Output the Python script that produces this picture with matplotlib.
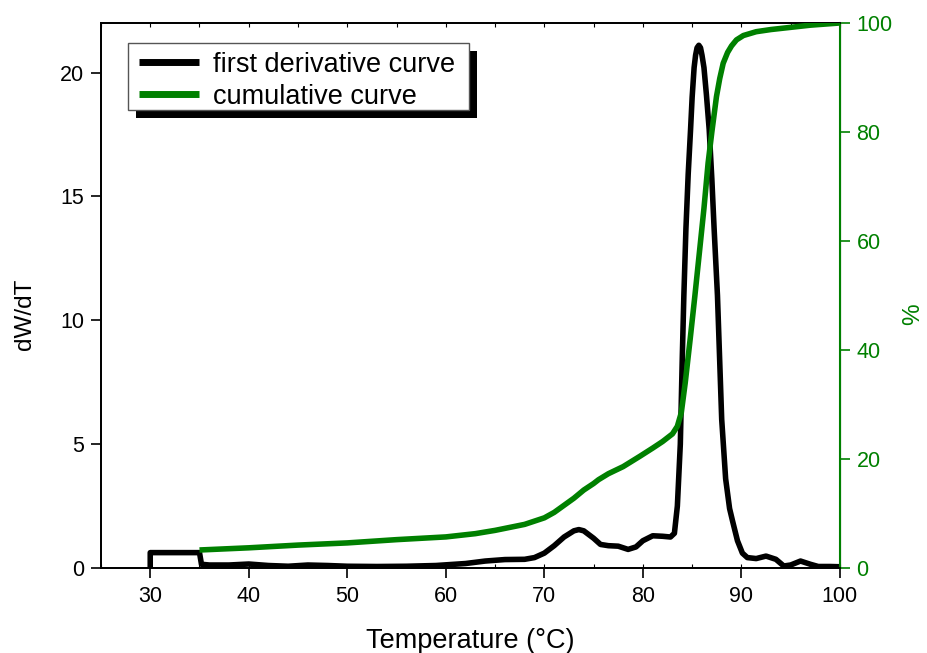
import matplotlib
matplotlib.use("Agg")
import matplotlib.pyplot as plt
from matplotlib.patches import Rectangle
from matplotlib.ticker import MultipleLocator

plt.rcParams['font.family'] = ['Liberation Sans', 'DejaVu Sans']

# First derivative of the cumulative curve (dW/dT) versus temperature
deriv_temp = [30, 30, 35, 35.2, 36, 38, 40, 42, 44, 46, 48, 50, 53, 56, 59, 62,
              64, 66, 68, 69, 70, 71, 72, 73, 73.5, 74, 75, 75.7, 76.5, 77.5,
              78.5, 79.3, 80, 81, 82, 82.8, 83.2, 83.5, 83.8, 84.0, 84.16,
              84.37, 84.6, 84.84, 85.0, 85.2, 85.35, 85.5, 85.68, 85.85, 86.0,
              86.2, 86.45, 86.73, 87.0, 87.23, 87.57, 88.0, 88.4, 88.8, 89.1,
              89.6, 90.1, 90.6, 91.5, 92.5, 93.5, 94.3, 95, 96, 97, 97.8, 99,
              100]
deriv_vals = [0, 0.62, 0.62, 0.15, 0.12, 0.12, 0.16, 0.1, 0.07, 0.12, 0.1, 0.07,
              0.06, 0.07, 0.1, 0.18, 0.28, 0.34, 0.35, 0.42, 0.6, 0.9, 1.25,
              1.5, 1.55, 1.5, 1.2, 0.95, 0.9, 0.88, 0.75, 0.85, 1.1, 1.3, 1.28,
              1.25, 1.4, 2.5, 5, 8.5, 11, 13.7, 15.9, 17.7, 19.0, 20.2, 20.7,
              21.0, 21.1, 21.0, 20.7, 20.2, 19.1, 17.7, 15.7, 13.7, 11, 6.0,
              3.6, 2.4, 1.9, 1.1, 0.6, 0.42, 0.38, 0.48, 0.35, 0.08, 0.12, 0.28,
              0.15, 0.06, 0.06, 0.05]

# Cumulative curve (%) versus temperature
cum_temp = [35, 40, 45, 50, 55, 60, 63, 65, 68, 70, 71, 72, 73, 74, 75, 75.5,
            76.5, 78, 79.7, 81, 82, 83, 83.5, 83.9, 84.3, 84.8, 85.27, 85.8,
            86.2, 86.62, 87.0, 87.47, 87.8, 88.15, 88.6, 89.0, 89.5, 90.2,
            91.5, 93, 95, 97, 100]
cum_vals = [3.3, 3.7, 4.2, 4.6, 5.2, 5.7, 6.3, 6.9, 8.0, 9.2, 10.2, 11.5, 12.8,
            14.3, 15.5, 16.2, 17.3, 18.6, 20.5, 22.0, 23.2, 24.6, 26.0, 28.5,
            34, 42, 49.8, 59, 66, 74.3, 80, 86.5, 89.8, 92.6, 94.6, 95.8, 96.9,
            97.7, 98.4, 98.8, 99.2, 99.6, 100]

x_ticks = [30, 40, 50, 60, 70, 80, 90, 100]
left_ticks = [0, 5, 10, 15, 20]
right_ticks = [0, 20, 40, 60, 80, 100]

green = '#008000'

fig = plt.figure(figsize=(9.28, 6.53), dpi=100)
ax = fig.add_axes([0.1088, 0.1302, 0.7963, 0.8346])
ax2 = ax.twinx()

ax.plot(deriv_temp, deriv_vals, color='black', lw=4.0,
        solid_joinstyle='round', solid_capstyle='butt',
        label='first derivative curve', zorder=3)
ax2.plot(cum_temp, cum_vals, color=green, lw=4.0,
         solid_joinstyle='round', solid_capstyle='butt',
         label='cumulative curve', zorder=3)

ax.set_xlim(25, 100)
ax.set_ylim(0, 22)
ax2.set_ylim(0, 100)

ax.set_xticks(x_ticks)
ax.xaxis.set_minor_locator(MultipleLocator(5))
ax.xaxis.remove_overlapping_locs = False
ax.set_yticks(left_ticks)
ax2.set_yticks(right_ticks)

ax.tick_params(axis='x', which='major', direction='out', length=7, width=1.2,
               labelsize=15.5, pad=6, top=False)
ax.tick_params(axis='x', which='minor', direction='in', length=3, width=0.8,
               top=True, bottom=True)
ax.tick_params(axis='y', which='major', direction='out', length=7, width=1.2,
               labelsize=15.5, pad=5)
ax2.tick_params(axis='y', which='major', direction='out', length=7, width=1.2,
                labelsize=15.5, pad=5, colors=green)

for side in ['left', 'bottom', 'top']:
    ax.spines[side].set_linewidth(1.3)
    ax2.spines[side].set_linewidth(1.3)
ax2.spines['right'].set_color(green)
ax2.spines['right'].set_linewidth(1.5)

ax.set_xlabel('Temperature (°C)', fontsize=19.5, labelpad=15)
ax.set_ylabel('dW/dT', fontsize=17.5)
ax.yaxis.set_label_coords(-0.088, 0.466)
ax2.set_ylabel('%', fontsize=17.5, color=green, rotation=90)
ax2.yaxis.set_label_coords(1.084, 0.466)

# Legend box with a solid drop shadow, drawn as patches in axes coordinates
frame_x0, frame_x1 = 0.0361, 0.498
frame_y0, frame_y1 = 0.8404, 0.9639
shadow_dx = 8 / 739
shadow_dy = 8 / 545
ax2.add_patch(Rectangle((frame_x0 + shadow_dx, frame_y0 - shadow_dy),
                        frame_x1 - frame_x0, frame_y1 - frame_y0,
                        transform=ax2.transAxes, facecolor='black',
                        edgecolor='none', zorder=8, clip_on=False))
ax2.add_patch(Rectangle((frame_x0, frame_y0),
                        frame_x1 - frame_x0, frame_y1 - frame_y0,
                        transform=ax2.transAxes, facecolor='white',
                        edgecolor='#555555', linewidth=1.0, zorder=9,
                        clip_on=False))

handles = ax.get_lines() + ax2.get_lines()
leg = ax2.legend(handles, [h.get_label() for h in handles],
                 loc='upper left', bbox_to_anchor=(0.0514, 0.947),
                 borderaxespad=0, borderpad=0, fontsize=19.5, frameon=False,
                 handlelength=2.21, handletextpad=0.52, labelspacing=0.21)
for line in leg.get_lines():
    line.set_linewidth(5)
leg.set_zorder(10)

fig.savefig('out.png', dpi=100)
